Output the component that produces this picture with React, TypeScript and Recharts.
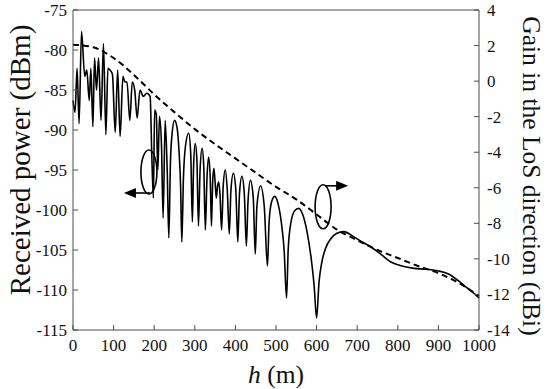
import { LineChart, Line, XAxis, YAxis, ReferenceDot, Label } from 'recharts';

// received power (solid, left axis) sampled along the height h
const powerH = [
  0, 5, 10, 15, 21, 29, 34, 40, 44, 49, 53, 58, 63, 69, 75, 81, 86, 91, 97, 104,
  110, 116, 123, 128, 133, 140, 146, 152, 158, 165, 173, 182, 190, 194, 198, 201, 205, 209, 213, 218,
  222, 227, 232, 236, 240, 244, 250, 256, 261, 265, 268, 272, 277, 285, 290, 294, 297, 301, 305, 309,
  313, 318, 322, 326, 330, 334, 338, 341, 344, 347, 350, 353, 356, 359, 362, 366, 370, 375, 380, 385,
  389, 395, 401, 406, 410, 416, 422, 427, 431, 437, 444, 449, 453, 462, 471, 479, 483, 489, 497, 505,
  513, 520, 526, 530, 536, 546, 556, 566, 576, 586, 594, 600, 606, 613, 622, 635, 650, 667, 690, 712,
  733, 760, 783, 810, 840, 870, 898, 925, 948, 970, 985, 1000,
];
const powerDbm = [
  -86.3, -87.8, -82.3, -89.2, -77.7, -83.3, -82.5, -86.3, -82.3, -89.6, -81, -85, -81, -88.8, -79.2, -90.6, -82.3, -82.5, -83, -90.3,
  -82.5, -90.8, -83.3, -84, -84, -88.8, -84, -85, -88.5, -85, -85.8, -85.4, -85.8, -93, -98.5, -87.5, -88, -95, -88.3, -92,
  -101, -88.8, -95, -103.5, -94, -90.5, -88.8, -89.6, -92.5, -97, -104, -96, -92, -90.4, -93, -101.5, -94.5, -91.7, -93.5, -102,
  -95, -92.3, -94.5, -102.5, -96, -93.4, -96, -102, -96.5, -94.8, -96.5, -98.5, -97, -96.5, -98, -102.5, -97, -95, -97.5, -103,
  -97.5, -95.4, -97.5, -104, -98, -95.8, -98, -104.5, -99, -96.3, -98.5, -105.5, -99.5, -97, -99.5, -107, -101.5, -99, -98.3, -99.2,
  -101.5, -105, -111, -105, -101.8, -100.1, -99.8, -100.6, -102.6, -105.8, -109.5, -113.5, -109, -106.5, -104.8, -103.6, -102.9, -102.7, -103.3, -104,
  -104.6, -105.6, -106.5, -107, -107.3, -107.4, -107.6, -108, -108.8, -109.7, -110.3, -111,
];

// gain in the LoS direction (dashed, right axis)
const gainH = [0, 50, 100, 150, 200, 250, 300, 350, 400, 450, 500, 550, 600, 650, 700, 750, 800, 850, 900, 950, 1000];
const gainDbi = [2.05, 1.9, 1.3, 0.35, -0.75, -1.75, -2.7, -3.55, -4.35, -5.15, -5.95, -6.65, -7.5, -8.35, -8.95, -9.5, -9.95, -10.4, -10.8, -11.35, -12.1];

const hTicks = [0, 100, 200, 300, 400, 500, 600, 700, 800, 900, 1000];
const powerTicks = [-115, -110, -105, -100, -95, -90, -85, -80, -75];
const gainTicks = [-14, -12, -10, -8, -6, -4, -2, 0, 2, 4];

const font = '"Liberation Serif", "Times New Roman", serif';
const axisColor = '#4d4d4d';

const powerData = powerH.map((h, i) => ({ h, p: powerDbm[i] }));
const gainData = gainH.map((h, i) => ({ h, g: gainDbi[i] }));

function BottomTick({ x, y, payload }: any) {
  return (
    <g>
      <line x1={x} x2={x} y1={y} y2={y - 5} stroke={axisColor} />
      <text x={x} y={y + 21} textAnchor="middle" fontFamily={font} fontSize={17} fill="#111">
        {payload.value}
      </text>
    </g>
  );
}

function TopTick({ x, y }: any) {
  return <line x1={x} x2={x} y1={y} y2={y + 5} stroke={axisColor} />;
}

function LeftTick({ x, y, payload }: any) {
  return (
    <g>
      <line x1={x} x2={x + 5} y1={y} y2={y} stroke={axisColor} />
      <text x={x - 6} y={y} dy="0.35em" textAnchor="end" fontFamily={font} fontSize={17} fill="#111">
        {payload.value}
      </text>
    </g>
  );
}

function RightTick({ x, y, payload }: any) {
  return (
    <g>
      <line x1={x} x2={x - 5} y1={y} y2={y} stroke={axisColor} />
      <text x={x + 8} y={y} dy="0.35em" textAnchor="start" fontFamily={font} fontSize={17} fill="#111">
        {payload.value}
      </text>
    </g>
  );
}

// ellipse around the curve with an arrow pointing to its axis
function Marker({ cx, cy, dir }: any) {
  const ay = dir < 0 ? cy + 21 : cy - 21;
  const x0 = cx + (dir < 0 ? 1 : 2);
  const x1 = cx + dir * 25;
  return (
    <g>
      <ellipse cx={cx} cy={cy} rx={8} ry={22} fill="none" stroke="#000" strokeWidth={1.6} />
      <line x1={x0} x2={x1 - dir * 10} y1={ay} y2={ay} stroke="#000" strokeWidth={1.6} />
      <polygon points={`${x1},${ay} ${x1 - dir * 12},${ay - 5} ${x1 - dir * 12},${ay + 5}`} fill="#000" />
    </g>
  );
}

export default function App() {
  return (
    <div style={{ position: 'absolute', left: 0, top: 0, background: '#fff' }}>
      <LineChart width={550} height={389} margin={{ top: 0, right: 0, bottom: 0, left: 0 }}>
        <XAxis
          xAxisId="t"
          orientation="top"
          type="number"
          dataKey="h"
          domain={[0, 1000]}
          ticks={hTicks}
          height={10}
          tickSize={0}
          tickMargin={0}
          tickLine={false}
          tick={<TopTick />}
          stroke={axisColor}
        />
        <XAxis
          xAxisId="b"
          type="number"
          dataKey="h"
          domain={[0, 1000]}
          ticks={hTicks}
          height={59}
          tickSize={0}
          tickMargin={0}
          tickLine={false}
          tick={<BottomTick />}
          stroke={axisColor}
        >
          <Label
            content={({ viewBox }: any) => (
              <text x={viewBox.x + viewBox.width / 2} y={viewBox.y + 53} textAnchor="middle" fontFamily={font} fontSize={25.5} fill="#111">
                <tspan fontStyle="italic">h</tspan> (m)
              </text>
            )}
          />
        </XAxis>
        <YAxis
          yAxisId="l"
          type="number"
          domain={[-115, -75]}
          ticks={powerTicks}
          width={73}
          tickSize={0}
          tickMargin={0}
          tickLine={false}
          tick={<LeftTick />}
          stroke={axisColor}
        >
          <Label
            content={({ viewBox }: any) => (
              <text
                x={20}
                y={viewBox.y + viewBox.height / 2 - 10}
                transform={`rotate(-90 20 ${viewBox.y + viewBox.height / 2 - 10})`}
                textAnchor="middle"
                dy="0.35em"
                fontFamily={font}
                fontSize={29}
                fill="#111"
              >
                Received power (dBm)
              </text>
            )}
          />
        </YAxis>
        <YAxis
          yAxisId="r"
          orientation="right"
          type="number"
          domain={[-14, 4]}
          ticks={gainTicks}
          width={71}
          tickSize={0}
          tickMargin={0}
          tickLine={false}
          tick={<RightTick />}
          stroke={axisColor}
        >
          <Label
            content={({ viewBox }: any) => (
              <text
                x={532}
                y={viewBox.y + viewBox.height / 2 + 6}
                transform={`rotate(90 532 ${viewBox.y + viewBox.height / 2 + 6})`}
                textAnchor="middle"
                dy="0.35em"
                fontFamily={font}
                fontSize={25.5}
                fill="#111"
              >
                Gain in the LoS direction (dBi)
              </text>
            )}
          />
        </YAxis>
        <Line
          xAxisId="b"
          yAxisId="l"
          data={powerData}
          dataKey="p"
          type="monotone"
          stroke="#000"
          strokeWidth={1.6}
          dot={false}
          isAnimationActive={false}
        />
        <Line
          xAxisId="b"
          yAxisId="r"
          data={gainData}
          dataKey="g"
          type="monotone"
          stroke="#000"
          strokeWidth={2}
          strokeDasharray="6 4"
          dot={false}
          isAnimationActive={false}
        />
        <ReferenceDot xAxisId="b" yAxisId="l" x={187} y={-95.25} r={1} shape={(p: any) => <Marker cx={p.cx} cy={p.cy} dir={-1} />} />
        <ReferenceDot xAxisId="b" yAxisId="l" x={616} y={-99.6} r={1} shape={(p: any) => <Marker cx={p.cx} cy={p.cy} dir={1} />} />
      </LineChart>
    </div>
  );
}
